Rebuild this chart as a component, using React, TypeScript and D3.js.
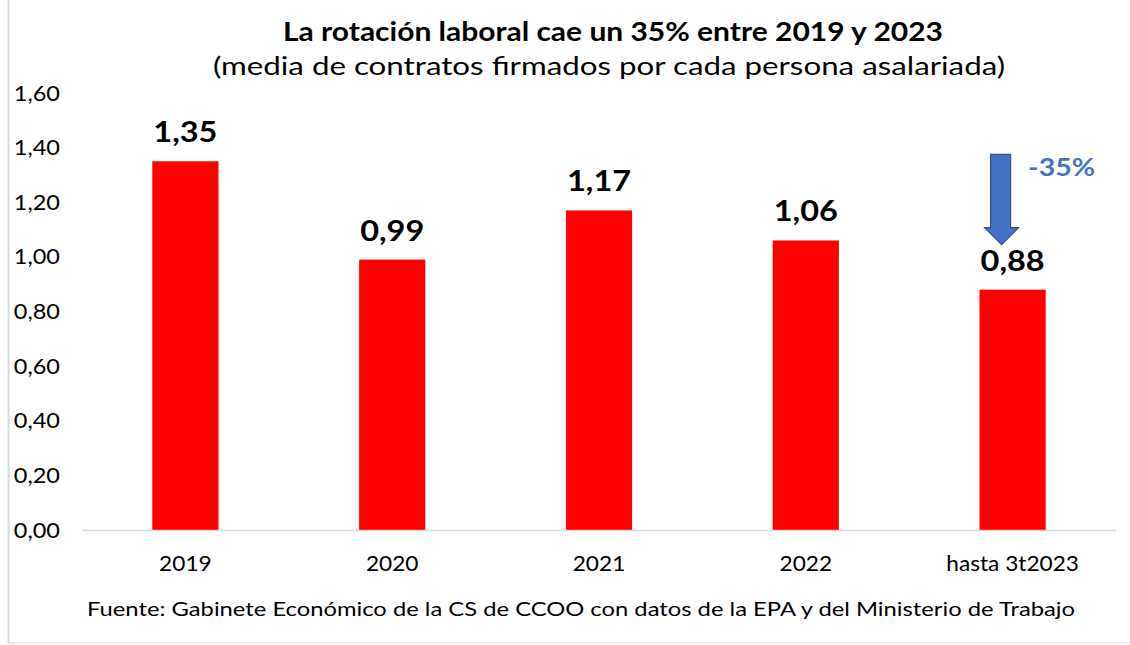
import React from "react";
import * as d3 from "d3";

const categories = ["2019", "2020", "2021", "2022", "hasta 3t2023"];
const values = [1.35, 0.99, 1.17, 1.06, 0.88];
const yTicks = [0, 0.2, 0.4, 0.6, 0.8, 1.0, 1.2, 1.4, 1.6];
const title = "La rotación laboral cae un 35% entre 2019 y 2023";
const subtitle = "(media de contratos firmados por cada persona asalariada)";
const source =
  "Fuente: Gabinete Económico de la CS de CCOO con datos de la EPA y del Ministerio de Trabajo";
const changeLabel = "-35%";
const arrowFrom = 1.375;
const arrowTo = 1.045;

const W = 1130;
const H = 645;
const margin = { top: 93, right: 14, bottom: 115, left: 82 };

const fmt = (v: number) => v.toFixed(2).replace(".", ",");

const App = () => {
  const x = d3
    .scaleBand()
    .domain(categories)
    .range([margin.left, W - margin.right])
    .paddingInner(0.68)
    .paddingOuter(0.34);

  const y = d3.scaleLinear().domain([0, 1.6]).range([H - margin.bottom, margin.top]);

  const font = "Lato, 'Open Sans', sans-serif";
  const cx = (c: string) => (x(c) as number) + x.bandwidth() / 2;

  // arrow annotation over the last bar
  const last = categories[categories.length - 1];
  const ax = cx(last) - 11;
  const yTop = y(arrowFrom);
  const yTip = y(arrowTo);
  const headH = 17;
  const shaftW = 11;
  const headW = 17;
  const arrowPath = [
    [ax - shaftW, yTop],
    [ax + shaftW - 2, yTop],
    [ax + shaftW - 2, yTip - headH],
    [ax + headW, yTip - headH],
    [ax, yTip],
    [ax - headW, yTip - headH],
    [ax - shaftW, yTip - headH],
  ]
    .map((p) => p.join(","))
    .join(" ");

  return (
    <svg
      width={W}
      height={H}
      style={{ position: "absolute", left: 0, top: 0, background: "#fff" }}
      fontFamily={font}
    >
      <line x1={8.5} x2={8.5} y1={0} y2={H - 2} stroke="#d9d9d9" strokeWidth={2} />
      <line x1={8} x2={W} y1={H - 2} y2={H - 2} stroke="#d9d9d9" strokeWidth={1} />

      <text
        x={613}
        y={41}
        textAnchor="middle"
        fontSize={26}
        fontWeight="bold"
        fill="#000"
        textLength={660}
        lengthAdjust="spacingAndGlyphs"
      >
        {title}
      </text>
      <text
        x={609}
        y={75}
        textAnchor="middle"
        fontSize={25}
        fill="#000"
        textLength={792}
        lengthAdjust="spacingAndGlyphs"
      >
        {subtitle}
      </text>

      {yTicks.map((t) => (
        <g key={t} transform={`translate(60,${y(t)}) scale(1.12,1)`}>
          <text dy="0.36em" textAnchor="end" fontSize={21} fill="#000">
            {fmt(t)}
          </text>
        </g>
      ))}

      {categories.map((c, i) => (
        <g key={c}>
          <rect
            x={x(c)}
            y={y(values[i])}
            width={x.bandwidth()}
            height={y(0) - y(values[i])}
            fill="#ff0000"
          />
          <g transform={`translate(${cx(c)},${y(values[i]) - 19}) scale(1.12,1)`}>
            <text textAnchor="middle" fontSize={29} fontWeight="bold" fill="#000">
              {fmt(values[i])}
            </text>
          </g>
          <g transform={`translate(${cx(c)},${y(0) + 41}) scale(1.03,1)`}>
            <text textAnchor="middle" fontSize={22} fill="#000">
              {c}
            </text>
          </g>
        </g>
      ))}

      <line
        x1={margin.left}
        x2={W - margin.right}
        y1={y(0) + 0.5}
        y2={y(0) + 0.5}
        stroke="#d9d9d9"
        strokeWidth={1.5}
      />

      <polygon points={arrowPath} fill="#4472c4" stroke="#2f528f" strokeWidth={1.2} />
      <g transform="translate(1028,176) scale(1.14,1)">
        <text fontSize={25} fontWeight="bold" fill="#4472c4">
          {changeLabel}
        </text>
      </g>

      <text
        x={581}
        y={616}
        textAnchor="middle"
        fontSize={20}
        fill="#000"
        textLength={988}
        lengthAdjust="spacingAndGlyphs"
      >
        {source}
      </text>
    </svg>
  );
};

export default App;
